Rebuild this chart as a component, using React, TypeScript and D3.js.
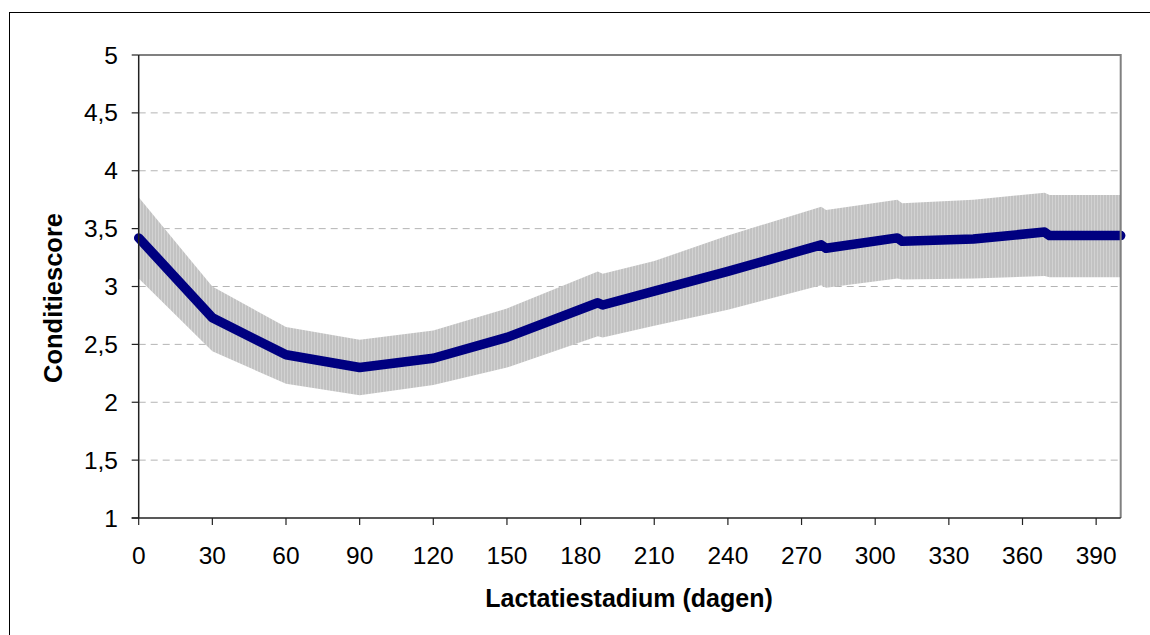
import React from 'react'
import * as d3 from 'd3'

// lactation day and condition score (mean with band)
const days = [0, 30, 60, 90, 120, 150, 187, 189, 210, 240, 278, 280, 309, 311, 340, 369, 371, 400]
const meanScore = [3.42, 2.73, 2.41, 2.3, 2.38, 2.56, 2.86, 2.84, 2.96, 3.13, 3.36, 3.33, 3.42, 3.39, 3.41, 3.47, 3.44, 3.44]
const upperScore = [3.77, 3.0, 2.65, 2.54, 2.62, 2.81, 3.13, 3.11, 3.22, 3.44, 3.69, 3.66, 3.75, 3.72, 3.75, 3.81, 3.79, 3.79]
const lowerScore = [3.07, 2.44, 2.16, 2.06, 2.15, 2.3, 2.57, 2.56, 2.66, 2.8, 3.01, 2.99, 3.07, 3.06, 3.07, 3.09, 3.08, 3.08]

const xTicks = [0, 30, 60, 90, 120, 150, 180, 210, 240, 270, 300, 330, 360, 390]
const yTicks = [1, 1.5, 2, 2.5, 3, 3.5, 4, 4.5, 5]

const W = 1150
const H = 635
const plot = { left: 138.7, right: 1120.7, top: 55, bottom: 518 }
const font = '"Liberation Sans", Arial, sans-serif'

const App: React.FC = () => {
  const x = d3.scaleLinear().domain([0, 400]).range([plot.left, plot.right])
  const y = d3.scaleLinear().domain([1, 5]).range([plot.bottom, plot.top])

  const rows = days.map((d, i) => ({ d, m: meanScore[i], hi: upperScore[i], lo: lowerScore[i] }))

  const band = d3
    .area<(typeof rows)[number]>()
    .x((r) => x(r.d))
    .y0((r) => y(r.lo))
    .y1((r) => y(r.hi))(rows)

  const line = d3
    .line<(typeof rows)[number]>()
    .x((r) => x(r.d))
    .y((r) => y(r.m))(rows)

  const fmt = (v: number) => String(v).replace('.', ',')

  return (
    <svg width={W} height={H} style={{ position: 'absolute', left: 0, top: 0, background: '#fff' }}>
      <defs>
        <pattern id="stripes" width={3} height={10} patternUnits="userSpaceOnUse">
          <rect width={3} height={10} fill="#c2c2c2" />
          <rect x={2} width={1} height={10} fill="#d2d2d2" />
        </pattern>
      </defs>

      {/* outer chart frame */}
      <rect x={9.5} y={12.5} width={W + 20} height={H + 20} fill="#fff" stroke="#000" strokeWidth={1} />

      {/* grid */}
      {yTicks
        .filter((v) => v > 1 && v < 5)
        .map((v) => (
          <line
            key={v}
            x1={plot.left}
            x2={plot.right}
            y1={y(v)}
            y2={y(v)}
            stroke="#b4b4b4"
            strokeWidth={1}
            strokeDasharray="7,5"
          />
        ))}

      <path d={band ?? ''} fill="url(#stripes)" />
      <path d={line ?? ''} fill="none" stroke="#000080" strokeWidth={9.5} strokeLinejoin="round" strokeLinecap="round" />

      {/* plot border top/right */}
      <polyline
        points={`${plot.left},${plot.top} ${plot.right},${plot.top} ${plot.right},${plot.bottom}`}
        fill="none"
        stroke="#808080"
        strokeWidth={2}
      />

      {/* axes */}
      <line x1={plot.left} x2={plot.left} y1={plot.top} y2={plot.bottom} stroke="#222" strokeWidth={1.5} />
      <line x1={plot.left - 7} x2={plot.right} y1={plot.bottom} y2={plot.bottom} stroke="#222" strokeWidth={1.5} />

      {yTicks.map((v) => (
        <g key={v}>
          <line x1={plot.left - 7} x2={plot.left} y1={y(v)} y2={y(v)} stroke="#222" strokeWidth={1.2} />
          <text x={118} y={y(v) + 8.5} textAnchor="end" fontFamily={font} fontSize={24.5} fill="#000">
            {fmt(v)}
          </text>
        </g>
      ))}

      {xTicks.map((v) => (
        <g key={v}>
          <line x1={x(v)} x2={x(v)} y1={plot.bottom} y2={plot.bottom + 7} stroke="#222" strokeWidth={1.2} />
          <text x={x(v)} y={563.5} textAnchor="middle" fontFamily={font} fontSize={24.5} fill="#000">
            {v}
          </text>
        </g>
      ))}

      <text x={629} y={607} textAnchor="middle" fontFamily={font} fontSize={25} fontWeight="bold" fill="#000">
        Lactatiestadium (dagen)
      </text>
      <text
        transform={`translate(62,298) rotate(-90)`}
        textAnchor="middle"
        fontFamily={font}
        fontSize={25.5}
        fontWeight="bold"
        fill="#000"
      >
        Conditiescore
      </text>
    </svg>
  )
}

export default App
